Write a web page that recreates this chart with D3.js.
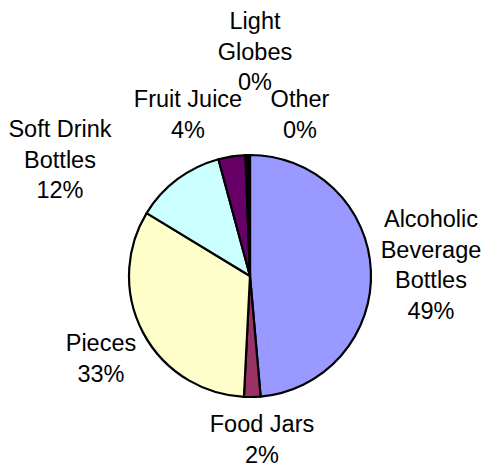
<!DOCTYPE html>
<html>
<head>
<meta charset="utf-8">
<script src="https://cdn.jsdelivr.net/npm/d3@7"></script>
<style>
  html, body { margin: 0; padding: 0; background: #ffffff; }
  svg { display: block; }
  text { font-family: "Liberation Sans", Arial, sans-serif; fill: #000; }
</style>
</head>
<body>
<svg id="chart" width="486" height="468"></svg>
<script>
// Share of collected glass by type (percent)
const categories = ["Alcoholic Beverage Bottles", "Food Jars", "Pieces", "Soft Drink Bottles",
                    "Fruit Juice", "Light Globes", "Other"];
const values = [48.6, 2.2, 32.9, 12.1, 3.6, 0.3, 0.3];
const colors = ["#9999FF", "#993366", "#FFFFCC", "#CCFFFF", "#660066", "#FF8080", "#0066CC"];

// Label line breaks and placement (centre x, first baseline)
const labelLayout = {
  "Alcoholic Beverage Bottles": { lines: ["Alcoholic", "Beverage", "Bottles"], x: 431, y: 227 },
  "Food Jars":          { lines: ["Food Jars"],          x: 262, y: 432 },
  "Pieces":             { lines: ["Pieces"],             x: 101, y: 351 },
  "Soft Drink Bottles": { lines: ["Soft Drink", "Bottles"], x: 60, y: 137 },
  "Fruit Juice":        { lines: ["Fruit Juice"],        x: 188, y: 107 },
  "Light Globes":       { lines: ["Light", "Globes"],    x: 255, y: 29 },
  "Other":              { lines: ["Other"],              x: 300, y: 107 }
};

const cx = 250, cy = 276, radius = 121;
const lineHeight = 30.7;

const svg = d3.select("#chart");
const total = d3.sum(values);
const pct = d3.format(".0%");

const pie = d3.pie().sort(null).value(d => d.value);
const arc = d3.arc().innerRadius(0).outerRadius(radius);

const data = categories.map((c, i) => ({ name: c, value: values[i], color: colors[i] }));
const arcs = pie(data);

const g = svg.append("g").attr("transform", `translate(${cx},${cy})`);

g.selectAll("path.slice")
  .data(arcs)
  .join("path")
  .attr("class", "slice")
  .attr("d", arc)
  .attr("fill", d => d.data.color)
  .attr("stroke", "#000")
  .attr("stroke-width", 2.2)
  .attr("stroke-linejoin", "round");

// Category labels with percentage on the last line
const labels = svg.selectAll("text.label")
  .data(arcs)
  .join("text")
  .attr("class", "label")
  .attr("text-anchor", "middle")
  .style("font-size", "23.5px");

labels.each(function(d) {
  const lay = labelLayout[d.data.name];
  const lines = lay.lines.concat([pct(d.data.value / total)]);
  d3.select(this).selectAll("tspan")
    .data(lines)
    .join("tspan")
    .attr("x", lay.x)
    .attr("y", (t, i) => lay.y + i * lineHeight)
    .text(t => t);
});
</script>
</body>
</html>
